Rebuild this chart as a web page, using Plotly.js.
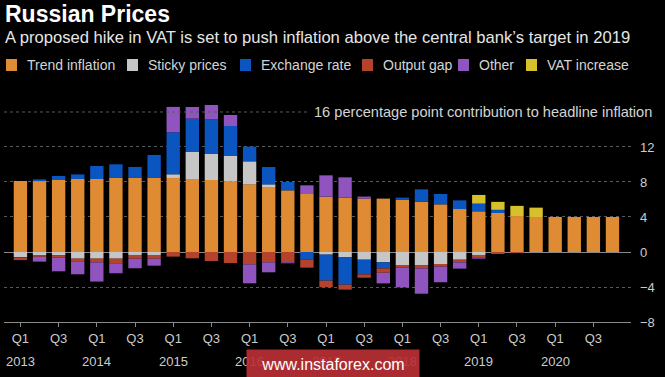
<!DOCTYPE html>
<html>
<head>
<meta charset="utf-8">
<script src="https://cdn.plot.ly/plotly-3.0.1.min.js"></script>
<style>html,body{margin:0;padding:0;background:#000;}#chart{width:665px;height:377px;}</style>
</head>
<body>
<div id="chart"></div>
<script>
// Quarter index 0 = Q1 2013 ... 31 = Q4 2020
var quarters = [];
for (var i = 0; i < 32; i++) quarters.push(i);

var seriesNames = ["Trend inflation", "Sticky prices", "Exchange rate", "Output gap", "Other", "VAT increase"];
var seriesColors = ["#DE8B33", "#C6C6C6", "#0B55C0", "#B5422A", "#9054BE", "#D7C12B"];

var trendInflation = [8.11, 8.10, 8.23, 8.34, 8.34, 8.46, 8.46, 8.46, 8.46, 8.34, 8.23, 8.04, 7.73, 7.43, 7.05, 6.63, 6.32, 6.21, 6.10, 6.10, 5.98, 5.75, 5.45, 4.91, 4.65, 4.34, 4.11, 4.00, 4.00, 4.00, 4.00, 4.00];
var stickyPrices   = [-0.60, -0.35, -0.38, -0.76, -0.76, -0.76, -0.34, -0.34, 0.42, 3.09, 2.97, 2.93, 2.63, 0.30, 0, 0, -0.30, -0.61, -0.88, -1.18, -1.49, -1.49, -1.37, -0.88, -0.34, 0.10, 0.11, 0, 0, 0, 0, 0];
var exchangeRate   = [-0.08, 0.20, 0.46, 0.53, 1.49, 1.56, 1.26, 2.63, 4.80, 3.81, 3.96, 3.43, 1.68, 1.98, 0.95, -0.88, -2.97, -3.12, -1.68, -0.69, 0.23, 1.41, 1.18, 0.99, 0.88, 0.38, 0, 0, 0, 0, 0, 0];
var outputGap      = [-0.15, -0.20, -0.27, -0.30, -0.42, -0.53, -0.42, -0.42, -0.53, -0.72, -1.03, -1.26, -1.41, -1.18, -1.18, -0.91, -0.76, -0.57, -0.38, -0.50, -0.30, -0.38, -0.30, -0.30, -0.27, -0.23, -0.10, 0, 0, 0, 0, 0];
var other          = [-0.10, -0.55, -1.56, -1.49, -2.20, -1.14, -1.10, -0.80, 2.90, 1.33, 1.64, 1.26, -2.17, -1.14, -0.11, 0.99, 2.44, 2.32, 0.23, -1.22, -2.25, -2.90, -1.79, -0.72, -0.15, 0, 0, 0, 0, 0, 0, 0];
var vatIncrease    = [0, 0, 0, 0, 0, 0, 0, 0, 0, 0, 0, 0, 0, 0, 0, 0, 0, 0, 0, 0, 0, 0, 0, 0, 0.99, 0.91, 1.05, 1.07, 0, 0, 0, 0];

var seriesValues = [trendInflation, stickyPrices, exchangeRate, outputGap, other, vatIncrease];

var xTickVals = [0, 2, 4, 6, 8, 10, 12, 14, 16, 18, 20, 22, 24, 26, 28, 30];
var xTickText = ["Q1", "Q3", "Q1", "Q3", "Q1", "Q3", "Q1", "Q3", "Q1", "Q3", "Q1", "Q3", "Q1", "Q3", "Q1", "Q3"];
var yearPos = [0, 4, 8, 12, 16, 20, 24, 28];
var yearLabels = ["2013", "2014", "2015", "2016", "2017", "2018", "2019", "2020"];
var yTickVals = [-8, -4, 0, 4, 8, 12];
var topLabel = "16 percentage point contribution to headline inflation";

var FONT = "'Liberation Sans', Arial, sans-serif";

// pixel helpers (plot area: x 4..631, y 100..322)
function px(x) { return (x - 4) / 627; }
function py(y) { return (322 - y) / 222; }

var traces = seriesNames.map(function (name, k) {
  return {
    type: "bar",
    name: name,
    x: quarters,
    y: seriesValues[k],
    width: 0.7,
    marker: { color: seriesColors[k], line: { width: 0 } },
    hoverinfo: "skip",
    showlegend: false
  };
});

var annotations = [];
var shapes = [];

// subtitle
annotations.push({
  xref: "paper", yref: "paper", x: px(3), y: py(38), xanchor: "left", yanchor: "middle",
  text: "A proposed hike in VAT is set to push inflation above the central bank\u2019s target in 2019",
  showarrow: false, font: { family: FONT, size: 16.6, color: "#e6e6e6" }
});

// custom legend
var legendLeft = [6, 127, 240, 362, 458, 526];
seriesNames.forEach(function (name, k) {
  shapes.push({
    type: "rect", xref: "paper", yref: "paper",
    x0: px(legendLeft[k]), x1: px(legendLeft[k] + 11), y0: py(71), y1: py(59),
    fillcolor: seriesColors[k], line: { width: 0 }
  });
  annotations.push({
    xref: "paper", yref: "paper", x: px(legendLeft[k] + 19), y: py(65),
    xanchor: "left", yanchor: "middle", text: name, showarrow: false,
    font: { family: FONT, size: 14, color: "#d4d4d4" }
  });
});

// 16 gridline fragment + label
shapes.push({
  type: "line", xref: "paper", yref: "y", x0: 0, x1: px(310), y0: 16, y1: 16,
  line: { color: "#5a5a5a", width: 1, dash: "dot" }
});
annotations.push({
  xref: "paper", yref: "y", x: px(654), y: 16, xanchor: "right", yanchor: "middle",
  text: topLabel, showarrow: false, font: { family: FONT, size: 14.6, color: "#d4d4d4" }
});

// year labels
yearPos.forEach(function (p, k) {
  annotations.push({
    xref: "x", yref: "paper", x: p, y: py(361), xanchor: "center", yanchor: "middle",
    text: yearLabels[k], showarrow: false, font: { family: FONT, size: 13, color: "#cccccc" }
  });
});

// watermark
annotations.push({
  xref: "paper", yref: "paper", x: px(333), y: py(364), xanchor: "center", yanchor: "middle",
  text: "www.instaforex.com", showarrow: false, width: 170, height: 26,
  bgcolor: "rgba(185,48,52,0.92)", font: { family: FONT, size: 16, color: "#ffffff" }
});

var layout = {
  width: 665, height: 377,
  paper_bgcolor: "#000000", plot_bgcolor: "#000000",
  margin: { l: 4, r: 34, t: 100, b: 55, pad: 0 },
  barmode: "relative",
  bargap: 0.3,
  showlegend: false,
  title: {
    text: "<b>Russian Prices</b>", xref: "container", yref: "container",
    x: 5 / 665, xanchor: "left", y: 1 - 14 / 377, yanchor: "middle",
    font: { family: FONT, size: 23, color: "#ffffff" }
  },
  xaxis: {
    range: [-0.86, 31.97], tickmode: "array", tickvals: xTickVals, ticktext: xTickText,
    showgrid: false, zeroline: false, showline: true, linecolor: "#8a8a8a", linewidth: 1,
    ticks: "outside", ticklen: 4, tickcolor: "#8a8a8a", tickwidth: 1,
    tickfont: { family: FONT, size: 13, color: "#cccccc" }, fixedrange: true
  },
  yaxis: {
    side: "right", range: [-8, 17.37], tickmode: "array", tickvals: yTickVals,
    showgrid: true, gridcolor: "#5a5a5a", griddash: "dot", gridwidth: 1,
    zeroline: true, zerolinecolor: "#8a8a8a", zerolinewidth: 1,
    showline: false, ticks: "", ticklabelstandoff: 8,
    tickfont: { family: FONT, size: 13, color: "#cccccc" }, fixedrange: true
  },
  shapes: shapes,
  annotations: annotations,
  hovermode: false
};

Plotly.newPlot("chart", traces, layout, { displayModeBar: false, staticPlot: true });
</script>
</body>
</html>
